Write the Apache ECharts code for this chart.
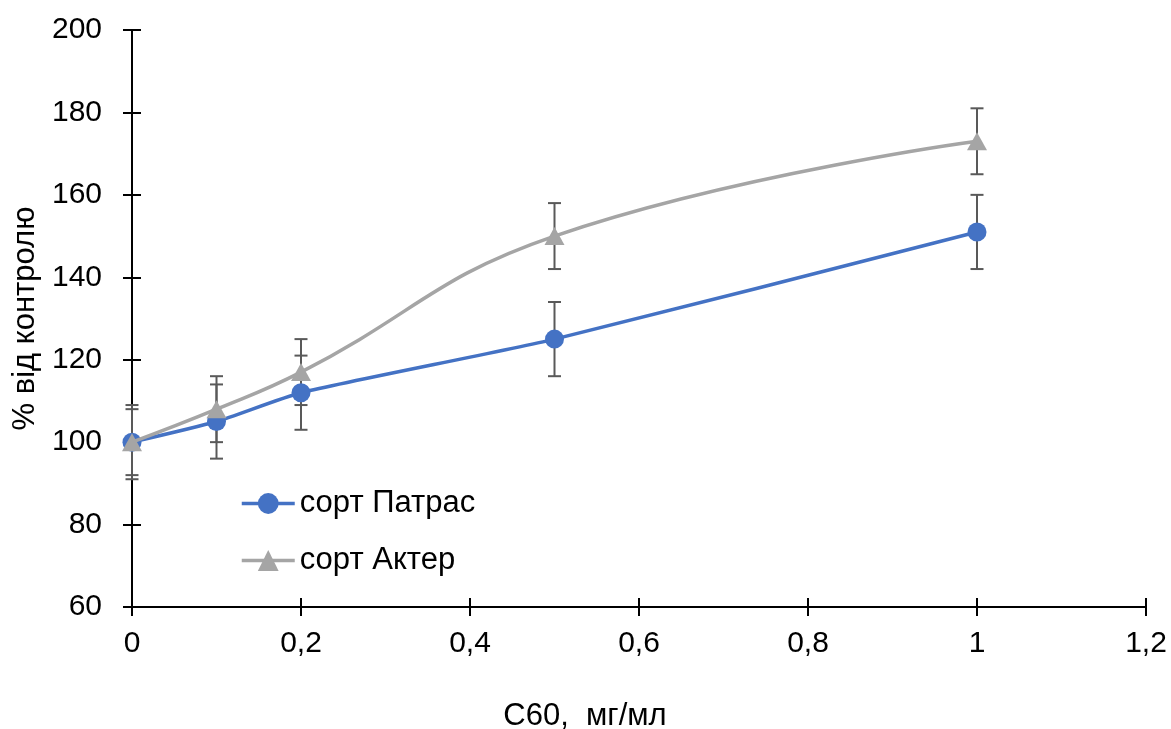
<!DOCTYPE html>
<html>
<head>
<meta charset="utf-8">
<script src="https://cdn.jsdelivr.net/npm/echarts@6/dist/echarts.min.js"></script>
<style>
  html, body { margin: 0; padding: 0; background: #fff; }
  #chart { width: 1171px; height: 729px; }
</style>
</head>
<body>
<div id="chart"></div>
<script>
// C60 concentration, mg/ml
const concentrations = [0, 0.1, 0.2, 0.5, 1];
// Response, % of control
const patras = [100, 105, 112, 125, 151];
const akter = [100, 108, 117, 150, 173];
// Error bar half-widths
const patrasErr = [9, 9, 9, 9, 9];
const akterErr = [8, 8, 8, 8, 8];

const FONT = '"Liberation Sans", Arial, sans-serif';
const BLUE = '#4472C4';
const GRAY = '#A5A5A5';
const ERR = '#595959';

function pairs(ys) { return concentrations.map((x, i) => [x, ys[i]]); }
function errRows(ys, es) { return concentrations.map((x, i) => [x, ys[i] - es[i], ys[i] + es[i]]); }

function renderErr(params, api) {
  const x = api.value(0);
  const lo = api.coord([x, api.value(1)]);
  const hi = api.coord([x, api.value(2)]);
  const w = 6.5;
  const style = { stroke: ERR, lineWidth: 2 };
  return {
    type: 'group',
    children: [
      { type: 'line', shape: { x1: lo[0], y1: lo[1], x2: hi[0], y2: hi[1] }, style },
      { type: 'line', shape: { x1: lo[0] - w, y1: lo[1], x2: lo[0] + w, y2: lo[1] }, style },
      { type: 'line', shape: { x1: hi[0] - w, y1: hi[1], x2: hi[0] + w, y2: hi[1] }, style }
    ]
  };
}

const axisLine = { show: true, onZero: false, lineStyle: { color: '#000', width: 2 } };
const labelStyle = { color: '#000', fontSize: 30, fontFamily: FONT };
const titleStyle = { color: '#000', fontSize: 31, fontFamily: FONT };

const chart = echarts.init(document.getElementById('chart'), null, { renderer: 'canvas' });
chart.setOption({
  animation: false,
  backgroundColor: '#fff',
  grid: { left: 132, right: 25, top: 30, bottom: 122, containLabel: false, outerBoundsMode: 'none' },
  legend: {
    orient: 'vertical',
    left: 235,
    top: 483,
    padding: 5,
    itemWidth: 53,
    itemHeight: 26,
    itemGap: 26,
    data: ['сорт Патрас', 'сорт Актер'],
    lineStyle: { width: 3.5 },
    textStyle: Object.assign({ padding: 0 }, titleStyle)
  },
  xAxis: [
    {
      type: 'value', min: 0, max: 1.2, interval: 0.2,
      axisLine,
      axisTick: { show: true, length: 9, lineStyle: { color: '#000', width: 2 } },
      splitLine: { show: false },
      axisLabel: Object.assign({ margin: 22, formatter: v => String(+v.toFixed(1)).replace('.', ',') }, labelStyle),
      name: 'C60,  мг/мл',
      nameLocation: 'middle',
      nameGap: 94,
      nameTextStyle: Object.assign({ padding: [0, 108, 0, 0] }, titleStyle)
    },
    {
      type: 'value', min: 0, max: 1.2, interval: 0.2, position: 'bottom',
      axisLine: { show: false },
      axisTick: { show: true, inside: true, length: 9, lineStyle: { color: '#000', width: 2 } },
      axisLabel: { show: false }, splitLine: { show: false }
    }
  ],
  yAxis: [
    {
      type: 'value', min: 60, max: 200, interval: 20,
      axisLine,
      axisTick: { show: true, length: 9, lineStyle: { color: '#000', width: 2 } },
      splitLine: { show: false },
      axisLabel: Object.assign({ margin: 30 }, labelStyle),
      name: '% від контролю',
      nameLocation: 'middle',
      nameGap: 91,
      nameRotate: 90,
      nameTextStyle: titleStyle
    },
    {
      type: 'value', min: 60, max: 200, interval: 20, position: 'left',
      axisLine: { show: false },
      axisTick: { show: true, inside: true, length: 9, lineStyle: { color: '#000', width: 2 } },
      axisLabel: { show: false }, splitLine: { show: false }
    }
  ],
  series: [
    {
      type: 'custom', name: 'err-patras', z: 1,
      renderItem: renderErr, data: errRows(patras, patrasErr),
      encode: { x: 0, y: [1, 2] }, silent: true
    },
    {
      type: 'custom', name: 'err-akter', z: 1,
      renderItem: renderErr, data: errRows(akter, akterErr),
      encode: { x: 0, y: [1, 2] }, silent: true
    },
    {
      type: 'line', name: 'сорт Патрас', z: 3,
      data: pairs(patras), smooth: 0.2,
      symbol: 'circle', symbolSize: 19, showAllSymbol: true,
      lineStyle: { color: BLUE, width: 3.5 },
      itemStyle: { color: BLUE }
    },
    {
      type: 'line', name: 'сорт Актер', z: 4,
      data: pairs(akter), smooth: 0.45,
      symbol: 'triangle', symbolSize: [20, 18], showAllSymbol: true,
      lineStyle: { color: GRAY, width: 3.5 },
      itemStyle: { color: GRAY }
    }
  ]
});
</script>
</body>
</html>
